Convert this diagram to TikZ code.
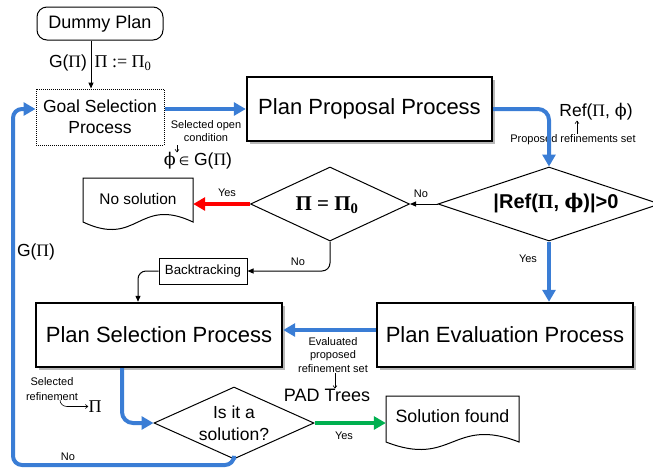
\documentclass[tikz,border=0pt]{standalone}
\usepackage{fontspec}
\setmainfont{Liberation Sans}
\newfontfamily\tms{Liberation Serif}
\newfontfamily\dvs{DejaVu Sans}
\newfontfamily\dvser{DejaVu Serif}
\usetikzlibrary{arrows.meta,shapes.geometric,shadows,calc}
\definecolor{fblue}{RGB}{58,125,213}
\definecolor{fred}{RGB}{255,0,0}
\definecolor{fgreen}{RGB}{0,176,80}
\newcommand\fsz[2]{\fontsize{#1}{#2}\selectfont}
\newcommand\PI{{\tms Π}}
\newcommand\PHI{{\dvser ϕ}}
\begin{document}
\begin{tikzpicture}[x=1pt,y=-1pt,
  bigbox/.style={draw, line width=2.4pt, fill=white, inner sep=0pt,
    drop shadow={shadow xshift=3pt, shadow yshift=-3pt, fill=black!28, opacity=1},
    minimum height=64pt, font=\fsz{22}{26}},
  dia/.style={draw, diamond, inner sep=0pt, line width=1pt},
  lbl/.style={inner sep=0pt, font=\fsz{11}{13}},
  mid/.style={inner sep=0pt, font=\fsz{17.5}{21}},
  thinarrow/.style={line width=1pt, -{Triangle[length=6pt,width=5pt]}},
  tinyarrow/.style={line width=0.6pt, -{Straight Barb[length=2.5pt,width=4pt]}},
  bluearrow/.style={line width=4pt, draw=fblue, -{Triangle[length=12pt,width=13pt]}, fblue},
  docline/.style={line width=1pt}
]
\useasboundingbox (0,0) rectangle (653,472);

% boxes
\node[draw, line width=1pt, rounded corners=10pt, minimum width=126pt, minimum height=33pt,
      inner sep=0pt, font=\fsz{18}{21}] (dummy) at (100,23.5) {Dummy Plan};
\node[draw, densely dotted, line width=1pt, minimum width=128pt, minimum height=56pt,
      inner sep=0pt, align=center, font=\fsz{17.5}{21}] (goal) at (100,117) {Goal Selection\\Process};
\node[bigbox, minimum width=245pt] (prop) at (369.5,109) {Plan Proposal Process};
\node[bigbox, minimum width=246pt] (sel) at (159,335) {Plan Selection Process};
\node[bigbox, minimum width=256pt] (eval) at (505,335) {Plan Evaluation Process};
\node[draw, line width=1pt, minimum width=88pt, minimum height=26pt, inner sep=0pt,
      font=\fsz{13.3}{15}] (back) at (203,271) {Backtracking};

% diamonds
\node[dia, minimum width=222pt, minimum height=74pt,
      label={[xshift=7pt, yshift=1pt, font=\fsz{20}{24}\bfseries]center:{|Ref({\tms\bfseries Π}, {\dvser\bfseries ϕ})|>0}}] (d1) at (549,204) {};
\node[dia, minimum width=159pt, minimum height=74pt,
      label={[xshift=-3pt, yshift=-1pt, font=\fsz{21}{24}]center:{\tms\bfseries Π = Π\textsubscript{0}}}] (d2) at (330,204) {};
\node[dia, minimum width=160pt, minimum height=72pt,
      label={[align=center, font=\fsz{17.5}{22}]center:{Is it a\\solution?}}] (d3) at (234,423) {};

% document shapes
\node[inner sep=0pt, minimum width=110pt, minimum height=42pt, font=\fsz{15.4}{18}] (nosol) at (138,199) {No solution};
\draw[docline] (83,178) -- (193,178) -- (193,222) .. controls (138,196) and (138,248) .. (83,222) -- cycle;
\node[inner sep=0pt, minimum width=133pt, minimum height=42pt, font=\fsz{17.8}{20}] (solf) at (452.5,416) {Solution found};
\draw[docline] (386,396) -- (519,396) -- (519,442) .. controls (452.5,416) and (452.5,468) .. (386,442) -- cycle;

% text labels
\node[mid] (lg1) at (68,63) {G(\PI)};
\node[inner sep=0pt, font=\fsz{18}{20}] (lpi0) at (123,63) {\tms Π := Π\textsubscript{0}};
\node[lbl, align=center] (lselopen) at (206,131) {Selected open\\condition};
\node[mid] (lphi) at (198,161) {\PHI\,{\dvs\fsz{12}{14}∈} G(\PI)};
\node[mid] (lref) at (596,112) {Ref(\PI, \PHI)};
\node[lbl] (lprs) at (573,140) {Proposed refinements set};
\node[lbl] (lno1) at (421,194) {No};
\node[lbl] (lyes1) at (227,193) {Yes};
\node[lbl] (lno2) at (298,262) {No};
\node[lbl] (lyes2) at (528,259) {Yes};
\node[lbl, align=center, font=\fsz{11}{13.5}] (leval) at (333,355) {Evaluated\\proposed\\refinement set};
\node[inner sep=0pt, font=\fsz{18}{20}] (lpad) at (327,395) {PAD Trees};
\node[lbl, align=center, font=\fsz{11}{15}] (lselref) at (52,389) {Selected\\refinement};
\node[inner sep=0pt, font=\fsz{18}{20}] (lpi) at (95,407) {\tms Π};
\node[lbl] (lyes3) at (344,436) {Yes};
\node[lbl] (lno3) at (68,457) {No};
\node[mid] (lg2) at (36,252) {G(\PI)};

% small annotation arrows
\coordinate (a1) at (177,145);
\draw[tinyarrow] (a1) -- (a1 |- lphi.north);
\coordinate (a2) at (577,134);
\draw[tinyarrow] (a2) -- (a2 |- lref.south);
\coordinate (a3) at (335,373);
\draw[tinyarrow] (a3) -- (a3 |- lpad.north);
\coordinate (a4) at (60,400);
\draw[tinyarrow] (a4) to[out=-90,in=180] (67,406.5) -- (lpi.west |- 67,406.5);

% connectors
\draw[thinarrow] ([xshift=-9pt]dummy.south) -- ([xshift=-9pt]goal.north);
\draw[bluearrow] (goal.east |- prop.west) -- (prop.west);
\draw[bluearrow, rounded corners=11pt] (prop.east) -| (d1.north);
\draw[thinarrow] (d1.west) -- (d2.east);
\draw[line width=4pt, draw=fred, fill=fred, -{Triangle[length=12pt,width=13pt]}] (d2.west) -- (d2.west -| nosol.east);
\draw[thinarrow, rounded corners=8pt] (d2.south) |- (back.east);
\draw[thinarrow, rounded corners=8pt] (back.west) -| ([xshift=-21pt]sel.north);
\draw[bluearrow] (d1.south) -- (d1.south |- eval.north);
\draw[bluearrow] ([yshift=5pt]eval.west) -- ([yshift=5pt]sel.east);
\draw[bluearrow, rounded corners=11pt] ([xshift=-37pt]sel.south) |- (d3.west);
\draw[line width=4pt, draw=fgreen, fill=fgreen, -{Triangle[length=12pt,width=13pt]}] (d3.east) -- (d3.east -| solf.west);
\coordinate (loopx) at (13,465);
\draw[bluearrow, rounded corners=9pt] (d3.south) |- (loopx) |- (goal.west |- prop.west);
\end{tikzpicture}
\end{document}
